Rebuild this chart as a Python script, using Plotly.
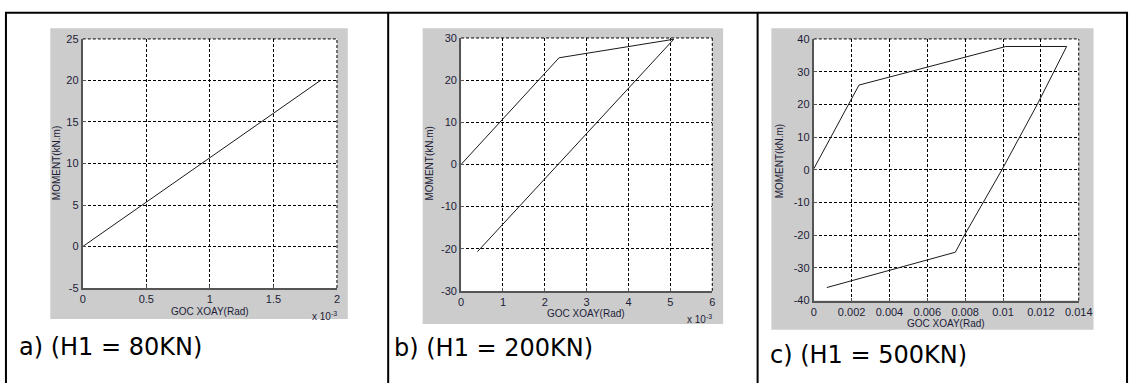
import plotly.graph_objects as go

W, H = 1143, 389

# ---------------- data ----------------
# Panel a (H1 = 80KN): rotation in 1e-3 rad, moment in kN.m
rot_a = [0.0, 1.87]
mom_a = [0.0, 20.0]

# Panel b (H1 = 200KN): rotation in 1e-3 rad
rot_b = [0.0, 2.34, 5.08, 0.39]
mom_b = [0.0, 25.3, 29.7, -20.7]

# Panel c (H1 = 500KN): rotation in rad
rot_c = [0.0, 0.00239, 0.01015, 0.01336, 0.01181, 0.00994, 0.00796, 0.00748, 0.00069]
mom_c = [0.3, 25.9, 37.7, 37.7, 20.0, 0.0, -20.0, -25.2, -36.0]

xticks_a = [0, 0.5, 1, 1.5, 2]
xticks_b = [0, 1, 2, 3, 4, 5, 6]
xticks_c = [0, 0.002, 0.004, 0.006, 0.008, 0.010, 0.012, 0.014]
xticklabels_c = ["0", "0.002", "0.004", "0.006", "0.008", "0.01", "0.012", "0.014"]
yticks_a = [-5, 0, 5, 10, 15, 20, 25]
yticks_b = [-30, -20, -10, 0, 10, 20, 30]
yticks_c = [-40, -30, -20, -10, 0, 10, 20, 30, 40]

captions = ["a) (H1 = 80KN)", "b) (H1 = 200KN)", "c) (H1 = 500KN)"]
xtitle = "GOC XOAY(Rad)"
ytitle = "MOMENT(kN.m)"

# ---------------- layout helpers (pixel -> paper) ----------------
def px(x):
    return x / W

def py(y):
    return 1 - y / H

CAPFONT = "DejaVu Sans"
FONT = "Liberation Sans"
TICKCOL = "#1c1c38"

# plot boxes (pixels): left, top, right, bottom
boxes = [(81, 34, 339, 291), (465, 33, 720, 294), (823, 34, 1092, 304)]
grays = [(48, 23, 350, 323), (426, 23, 731, 328), (780, 23, 1107, 334)]

fig = go.Figure()

series = [(rot_a, mom_a), (rot_b, mom_b), (rot_c, mom_c)]
for i, (xs, ys) in enumerate(series):
    sfx = "" if i == 0 else str(i + 1)
    fig.add_trace(go.Scatter(x=xs, y=ys, mode="lines",
                             line=dict(color="#1a1a1a", width=1),
                             xaxis="x" + sfx, yaxis="y" + sfx,
                             showlegend=False, hoverinfo="skip"))

ranges = [((0, 2), (-5, 25)), ((0, 6), (-30, 30)), ((0, 0.014), (-40, 40))]
xt = [(xticks_a, [str(v) for v in xticks_a]),
      (xticks_b, [str(v) for v in xticks_b]),
      (xticks_c, xticklabels_c)]
yt = [yticks_a, yticks_b, yticks_c]

GRIDDASH = "3px,2px"
axis_common = dict(
    showgrid=True, gridcolor="#000000", gridwidth=1, griddash=GRIDDASH,
    zeroline=False, showline=True, linecolor="#555555", linewidth=2,
    ticks="inside", ticklen=3, tickcolor="#555555",
    tickfont=dict(family=FONT, size=11, color=TICKCOL),
    mirror=False, fixedrange=True,
)

layout_axes = {}
for i in range(3):
    sfx = "" if i == 0 else str(i + 1)
    l, t, r, b = boxes[i]
    (x0, x1), (y0, y1) = ranges[i]
    xa = dict(axis_common, domain=[px(l), px(r)], range=[x0, x1],
              anchor="y" + sfx, tickmode="array", tickvals=xt[i][0],
              ticktext=xt[i][1])
    ya = dict(axis_common, domain=[py(b), py(t)], range=[y0, y1],
              anchor="x" + sfx, tickmode="array", tickvals=yt[i],
              ticktext=[str(v) for v in yt[i]])
    layout_axes["xaxis" + sfx] = xa
    layout_axes["yaxis" + sfx] = ya

shapes = []
# gray figure backgrounds and white plot areas
for (l, t, r, b) in grays:
    shapes.append(dict(type="rect", xref="paper", yref="paper",
                       x0=px(l), x1=px(r), y0=py(b), y1=py(t),
                       fillcolor="#cccccc", line=dict(width=0), layer="below"))
for (l, t, r, b) in boxes:
    shapes.append(dict(type="rect", xref="paper", yref="paper",
                       x0=px(l), x1=px(r), y0=py(b), y1=py(t),
                       fillcolor="#ffffff", line=dict(width=0), layer="below"))
# dotted top / right box edges (grid lines at the range ends)
for (l, t, r, b) in boxes:
    shapes.append(dict(type="line", xref="paper", yref="paper",
                       x0=px(l), x1=px(r), y0=py(t), y1=py(t),
                       line=dict(color="#000000", width=1, dash=GRIDDASH)))
    shapes.append(dict(type="line", xref="paper", yref="paper",
                       x0=px(r), x1=px(r), y0=py(b), y1=py(t),
                       line=dict(color="#000000", width=1, dash=GRIDDASH)))
# table borders
for xv in (3, 391, 766, 1141):
    shapes.append(dict(type="line", xref="paper", yref="paper",
                       x0=px(xv), x1=px(xv), y0=py(7), y1=0,
                       line=dict(color="#000000", width=2)))
shapes.append(dict(type="line", xref="paper", yref="paper",
                   x0=px(2), x1=px(1142), y0=py(7), y1=py(7),
                   line=dict(color="#000000", width=2)))

annotations = []
xt_pos = [(210, 315), (592, 317), (957, 328)]
yt_pos = [(54, 162), (433, 163), (788, 160)]
cap_pos = [(14, 352), (395, 353), (777, 360)]
for i in range(3):
    annotations.append(dict(text=xtitle, x=px(xt_pos[i][0]), y=py(xt_pos[i][1]),
                            xref="paper", yref="paper", showarrow=False,
                            xanchor="center", yanchor="middle",
                            font=dict(family=FONT, size=10, color=TICKCOL)))
    annotations.append(dict(text=ytitle, x=px(yt_pos[i][0]), y=py(yt_pos[i][1]),
                            xref="paper", yref="paper", showarrow=False,
                            textangle=-90, xanchor="center", yanchor="middle",
                            font=dict(family=FONT, size=10, color=TICKCOL)))
    annotations.append(dict(text=captions[i], x=px(cap_pos[i][0]), y=py(cap_pos[i][1]),
                            xref="paper", yref="paper", showarrow=False,
                            xanchor="left", yanchor="middle",
                            font=dict(family=CAPFONT, size=24, color="#000000")))
for (xx, yy) in [(326, 320), (707, 323)]:
    annotations.append(dict(text="x 10<sup>-3</sup>", x=px(xx), y=py(yy),
                            xref="paper", yref="paper", showarrow=False,
                            xanchor="center", yanchor="middle",
                            font=dict(family=FONT, size=10, color=TICKCOL)))

fig.update_layout(
    width=W, height=H, margin=dict(l=0, r=0, t=0, b=0),
    paper_bgcolor="#ffffff", plot_bgcolor="#ffffff",
    shapes=shapes, annotations=annotations, showlegend=False,
    **layout_axes,
)

fig.write_html(
    "out.html",
    config={"displayModeBar": False},
    post_script="document.body.style.margin='0';document.body.style.padding='0';"
                "document.body.style.overflow='hidden';",
)
